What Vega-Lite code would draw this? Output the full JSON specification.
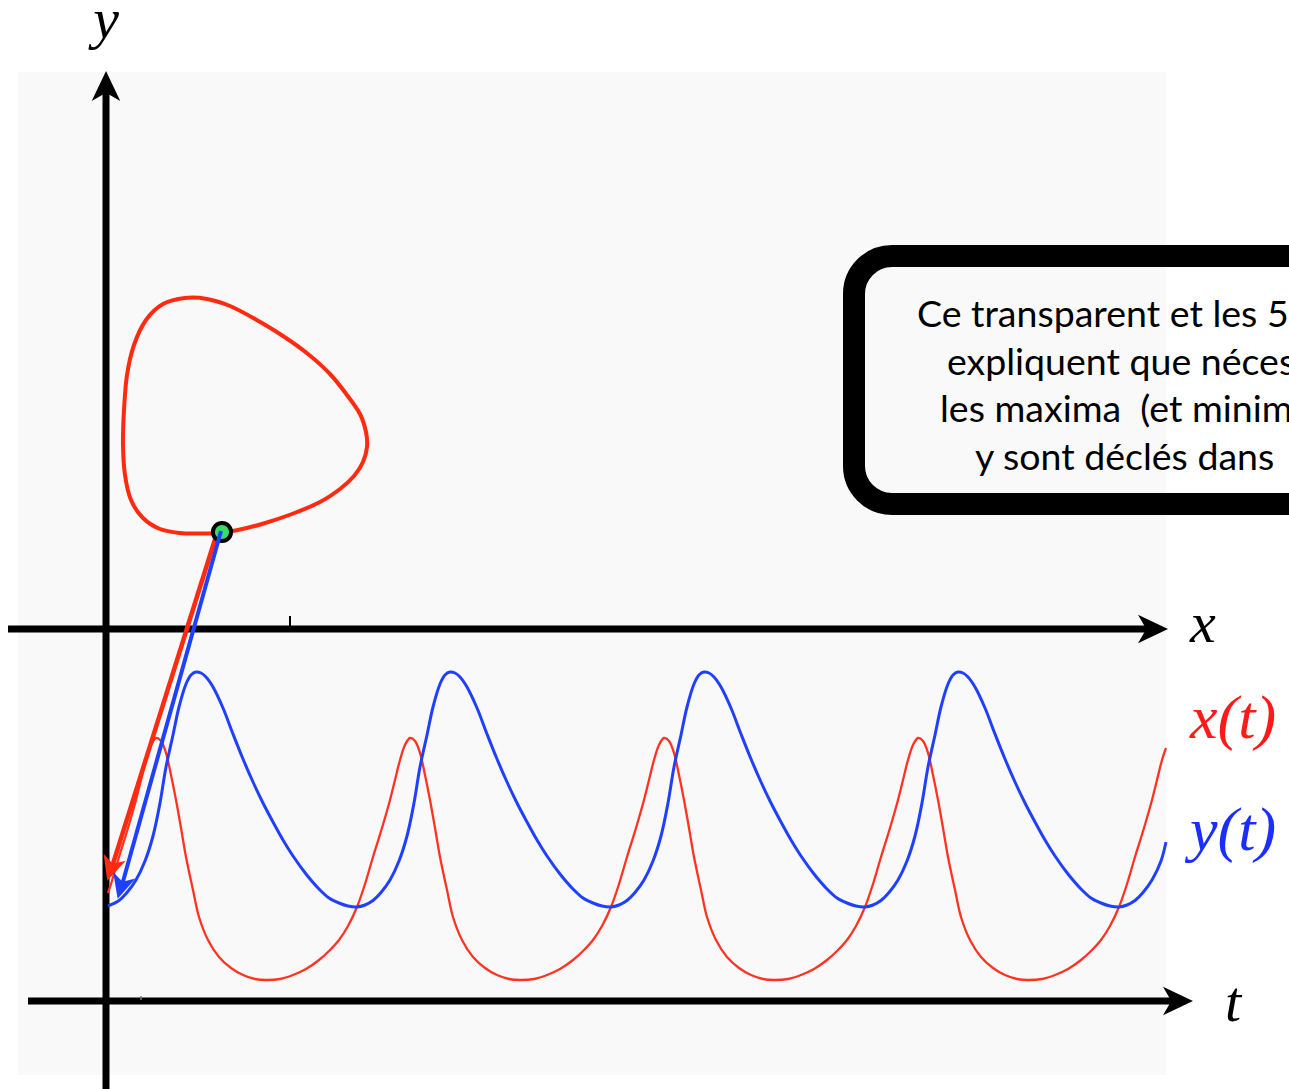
{
  "$schema": "https://vega.github.io/schema/vega-lite/v6.json",
  "width": 1289,
  "height": 1089,
  "autosize": {"type": "none"},
  "padding": 0,
  "background": "white",
  "config": {"view": {"stroke": null}},
  "encoding": {
    "x": {"field": "t", "type": "quantitative", "scale": {"domain": [-104, 1185], "nice": false, "zero": false}, "axis": null},
    "y": {"field": "v", "type": "quantitative", "scale": {"domain": [-89, 1000], "nice": false, "zero": false}, "axis": null}
  },
  "datasets": {
    "series": [
      {"s":"y","t":4,"v":94},{"s":"y","t":15,"v":99.5},{"s":"y","t":23,"v":107.5},{"s":"y","t":32,"v":120},{"s":"y","t":41,"v":139},{"s":"y","t":49,"v":164},{"s":"y","t":56,"v":197},{"s":"y","t":62,"v":233},{"s":"y","t":69,"v":265},{"s":"y","t":75,"v":293},{"s":"y","t":82,"v":316},{"s":"y","t":87,"v":325},{"s":"y","t":92,"v":328},{"s":"y","t":97,"v":327},{"s":"y","t":102,"v":323},{"s":"y","t":109,"v":313},{"s":"y","t":119,"v":292},{"s":"y","t":129,"v":266},{"s":"y","t":139,"v":241},{"s":"y","t":149,"v":218},{"s":"y","t":159,"v":197},{"s":"y","t":169,"v":178},{"s":"y","t":179,"v":160},{"s":"y","t":189,"v":144},{"s":"y","t":202,"v":126},{"s":"y","t":215,"v":111},{"s":"y","t":225,"v":102},{"s":"y","t":235,"v":97},{"s":"y","t":244,"v":94},
      {"s":"y","t":253,"v":93},{"s":"y","t":261,"v":95},{"s":"y","t":269,"v":99.5},{"s":"y","t":277,"v":107.5},{"s":"y","t":286,"v":120},{"s":"y","t":295,"v":139},{"s":"y","t":303,"v":164},{"s":"y","t":310,"v":197},{"s":"y","t":316,"v":233},{"s":"y","t":323,"v":265},{"s":"y","t":329,"v":293},{"s":"y","t":336,"v":316},{"s":"y","t":341,"v":325},{"s":"y","t":346,"v":328},{"s":"y","t":351,"v":327},{"s":"y","t":356,"v":323},{"s":"y","t":363,"v":313},{"s":"y","t":373,"v":292},{"s":"y","t":383,"v":266},{"s":"y","t":393,"v":241},{"s":"y","t":403,"v":218},{"s":"y","t":413,"v":197},{"s":"y","t":423,"v":178},{"s":"y","t":433,"v":160},{"s":"y","t":443,"v":144},{"s":"y","t":456,"v":126},{"s":"y","t":469,"v":111},{"s":"y","t":479,"v":102},{"s":"y","t":489,"v":97},{"s":"y","t":498,"v":94},
      {"s":"y","t":507,"v":93},{"s":"y","t":515,"v":95},{"s":"y","t":523,"v":99.5},{"s":"y","t":531,"v":107.5},{"s":"y","t":540,"v":120},{"s":"y","t":549,"v":139},{"s":"y","t":557,"v":164},{"s":"y","t":564,"v":197},{"s":"y","t":570,"v":233},{"s":"y","t":577,"v":265},{"s":"y","t":583,"v":293},{"s":"y","t":590,"v":316},{"s":"y","t":595,"v":325},{"s":"y","t":600,"v":328},{"s":"y","t":605,"v":327},{"s":"y","t":610,"v":323},{"s":"y","t":617,"v":313},{"s":"y","t":627,"v":292},{"s":"y","t":637,"v":266},{"s":"y","t":647,"v":241},{"s":"y","t":657,"v":218},{"s":"y","t":667,"v":197},{"s":"y","t":677,"v":178},{"s":"y","t":687,"v":160},{"s":"y","t":697,"v":144},{"s":"y","t":710,"v":126},{"s":"y","t":723,"v":111},{"s":"y","t":733,"v":102},{"s":"y","t":743,"v":97},{"s":"y","t":752,"v":94},
      {"s":"y","t":761,"v":93},{"s":"y","t":769,"v":95},{"s":"y","t":777,"v":99.5},{"s":"y","t":785,"v":107.5},{"s":"y","t":794,"v":120},{"s":"y","t":803,"v":139},{"s":"y","t":811,"v":164},{"s":"y","t":818,"v":197},{"s":"y","t":824,"v":233},{"s":"y","t":831,"v":265},{"s":"y","t":837,"v":293},{"s":"y","t":844,"v":316},{"s":"y","t":849,"v":325},{"s":"y","t":854,"v":328},{"s":"y","t":859,"v":327},{"s":"y","t":864,"v":323},{"s":"y","t":871,"v":313},{"s":"y","t":881,"v":292},{"s":"y","t":891,"v":266},{"s":"y","t":901,"v":241},{"s":"y","t":911,"v":218},{"s":"y","t":921,"v":197},{"s":"y","t":931,"v":178},{"s":"y","t":941,"v":160},{"s":"y","t":951,"v":144},{"s":"y","t":964,"v":126},{"s":"y","t":977,"v":111},{"s":"y","t":987,"v":102},{"s":"y","t":997,"v":97},{"s":"y","t":1006,"v":94},
      {"s":"y","t":1015,"v":93},{"s":"y","t":1023,"v":95},{"s":"y","t":1031,"v":99.5},{"s":"y","t":1039,"v":107.5},{"s":"y","t":1048,"v":120},{"s":"y","t":1057,"v":139},{"s":"y","t":1062,"v":158},
      {"s":"x","t":4,"v":107},{"s":"x","t":7,"v":116},{"s":"x","t":15,"v":143},{"s":"x","t":24,"v":172},{"s":"x","t":32,"v":200},{"s":"x","t":37,"v":220},{"s":"x","t":42,"v":240},{"s":"x","t":47,"v":255},{"s":"x","t":52,"v":262},{"s":"x","t":57,"v":259},{"s":"x","t":62,"v":247},{"s":"x","t":67,"v":225},{"s":"x","t":72,"v":200},{"s":"x","t":77,"v":172},{"s":"x","t":82,"v":143},{"s":"x","t":89,"v":110},{"s":"x","t":95,"v":83},{"s":"x","t":104,"v":60},{"s":"x","t":115,"v":43},{"s":"x","t":127,"v":32},{"s":"x","t":139,"v":25},{"s":"x","t":151,"v":21},{"s":"x","t":162,"v":20},{"s":"x","t":176,"v":21},{"s":"x","t":189,"v":25},{"s":"x","t":202,"v":31},{"s":"x","t":215,"v":40},{"s":"x","t":225,"v":49},{"s":"x","t":235,"v":60},{"s":"x","t":244,"v":74},
      {"s":"x","t":253,"v":93},{"s":"x","t":261,"v":116},{"s":"x","t":269,"v":143},{"s":"x","t":278,"v":172},{"s":"x","t":286,"v":200},{"s":"x","t":291,"v":220},{"s":"x","t":296,"v":240},{"s":"x","t":301,"v":255},{"s":"x","t":306,"v":262},{"s":"x","t":311,"v":259},{"s":"x","t":316,"v":247},{"s":"x","t":321,"v":225},{"s":"x","t":326,"v":200},{"s":"x","t":331,"v":172},{"s":"x","t":336,"v":143},{"s":"x","t":343,"v":110},{"s":"x","t":349,"v":83},{"s":"x","t":358,"v":60},{"s":"x","t":369,"v":43},{"s":"x","t":381,"v":32},{"s":"x","t":393,"v":25},{"s":"x","t":405,"v":21},{"s":"x","t":416,"v":20},{"s":"x","t":430,"v":21},{"s":"x","t":443,"v":25},{"s":"x","t":456,"v":31},{"s":"x","t":469,"v":40},{"s":"x","t":479,"v":49},{"s":"x","t":489,"v":60},{"s":"x","t":498,"v":74},
      {"s":"x","t":507,"v":93},{"s":"x","t":515,"v":116},{"s":"x","t":523,"v":143},{"s":"x","t":532,"v":172},{"s":"x","t":540,"v":200},{"s":"x","t":545,"v":220},{"s":"x","t":550,"v":240},{"s":"x","t":555,"v":255},{"s":"x","t":560,"v":262},{"s":"x","t":565,"v":259},{"s":"x","t":570,"v":247},{"s":"x","t":575,"v":225},{"s":"x","t":580,"v":200},{"s":"x","t":585,"v":172},{"s":"x","t":590,"v":143},{"s":"x","t":597,"v":110},{"s":"x","t":603,"v":83},{"s":"x","t":612,"v":60},{"s":"x","t":623,"v":43},{"s":"x","t":635,"v":32},{"s":"x","t":647,"v":25},{"s":"x","t":659,"v":21},{"s":"x","t":670,"v":20},{"s":"x","t":684,"v":21},{"s":"x","t":697,"v":25},{"s":"x","t":710,"v":31},{"s":"x","t":723,"v":40},{"s":"x","t":733,"v":49},{"s":"x","t":743,"v":60},{"s":"x","t":752,"v":74},
      {"s":"x","t":761,"v":93},{"s":"x","t":769,"v":116},{"s":"x","t":777,"v":143},{"s":"x","t":786,"v":172},{"s":"x","t":794,"v":200},{"s":"x","t":799,"v":220},{"s":"x","t":804,"v":240},{"s":"x","t":809,"v":255},{"s":"x","t":814,"v":262},{"s":"x","t":819,"v":259},{"s":"x","t":824,"v":247},{"s":"x","t":829,"v":225},{"s":"x","t":834,"v":200},{"s":"x","t":839,"v":172},{"s":"x","t":844,"v":143},{"s":"x","t":851,"v":110},{"s":"x","t":857,"v":83},{"s":"x","t":866,"v":60},{"s":"x","t":877,"v":43},{"s":"x","t":889,"v":32},{"s":"x","t":901,"v":25},{"s":"x","t":913,"v":21},{"s":"x","t":924,"v":20},{"s":"x","t":938,"v":21},{"s":"x","t":951,"v":25},{"s":"x","t":964,"v":31},{"s":"x","t":977,"v":40},{"s":"x","t":987,"v":49},{"s":"x","t":997,"v":60},{"s":"x","t":1006,"v":74},
      {"s":"x","t":1015,"v":93},{"s":"x","t":1023,"v":116},{"s":"x","t":1031,"v":143},{"s":"x","t":1040,"v":172},{"s":"x","t":1048,"v":200},{"s":"x","t":1053,"v":220},{"s":"x","t":1058,"v":240},{"s":"x","t":1062,"v":252}
    ],
    "cycle": [
      {"i":1,"t":116,"v":467},{"i":2,"t":96,"v":466.5},{"i":3,"t":76,"v":467},{"i":4,"t":56,"v":471},{"i":5,"t":39,"v":482},{"i":6,"t":27,"v":500},{"i":7,"t":21,"v":525},{"i":8,"t":19,"v":555},{"i":9,"t":20,"v":590},{"i":10,"t":23,"v":625},{"i":11,"t":30,"v":655},{"i":12,"t":42,"v":680},{"i":13,"t":59,"v":696},{"i":14,"t":81,"v":702},{"i":15,"t":103,"v":701},{"i":16,"t":126,"v":694},{"i":17,"t":151,"v":681},{"i":18,"t":179,"v":664},{"i":19,"t":204,"v":646},{"i":20,"t":226,"v":626},{"i":21,"t":243,"v":605},{"i":22,"t":256,"v":586},{"i":23,"t":262,"v":568},{"i":24,"t":263,"v":553},{"i":25,"t":259,"v":538},{"i":26,"t":250,"v":524},{"i":27,"t":236,"v":511},{"i":28,"t":216,"v":498},{"i":29,"t":188,"v":486},{"i":30,"t":158,"v":476},{"i":31,"t":134,"v":470}
    ]
  },
  "layer": [
    {
      "data": {"values": [{"t": -86, "t2": 1062, "v": 928, "v2": -75}]},
      "mark": {"type": "rect", "color": "#f9f9f9"},
      "encoding": {"x2": {"field": "t2"}, "y2": {"field": "v2"}}
    },
    {
      "data": {"values": [{"t": 750, "t2": 1226, "v": 744, "v2": 496}]},
      "mark": {"type": "rect", "fill": null, "fillOpacity": 0, "stroke": "black", "strokeWidth": 22, "cornerRadius": 38},
      "encoding": {"x2": {"field": "t2"}, "y2": {"field": "v2"}}
    },
    {
      "data": {"values": [
        {"t": 813, "v": 673, "line": "Ce transparent et les 5 suivants"},
        {"t": 843, "v": 625.5, "line": "expliquent que nécessairement"},
        {"t": 836, "v": 578, "line": "les maxima\u00a0 (et minima) de x et"},
        {"t": 871, "v": 530.5, "line": "y sont déclés dans\u00a0 le temps"}
      ]},
      "mark": {"type": "text", "align": "left", "baseline": "alphabetic", "font": "Lato", "fontSize": 37.5, "color": "black"},
      "encoding": {"text": {"field": "line"}}
    },
    {
      "data": {"values": [
        {"t": 2, "t2": 2, "v": -89, "v2": 912},
        {"t": -96, "t2": 1050, "v": 371, "v2": 371},
        {"t": -76, "t2": 1075, "v": -1, "v2": -1}
      ]},
      "mark": {"type": "rule", "color": "black", "strokeWidth": 7, "strokeCap": "butt"},
      "encoding": {"x2": {"field": "t2"}, "y2": {"field": "v2"}}
    },
    {
      "data": {"values": [{"t": 186, "t2": 186, "v": 371, "v2": 384}]},
      "mark": {"type": "rule", "color": "black", "strokeWidth": 2},
      "encoding": {"x2": {"field": "t2"}, "y2": {"field": "v2"}}
    },
    {
      "data": {"values": [{"t": 37, "t2": 37, "v": 0, "v2": 4}]},
      "mark": {"type": "rule", "color": "#777777", "strokeWidth": 1.5},
      "encoding": {"x2": {"field": "t2"}, "y2": {"field": "v2"}}
    },
    {
      "data": {"values": [{"t": 1049, "v": 371}, {"t": 1074, "v": -1}]},
      "mark": {"type": "point", "filled": true, "opacity": 1, "color": "black", "size": 900, "shape": "M1,0 L-1,-0.95 L-0.45,0 L-1,0.95 Z"}
    },
    {
      "data": {"values": [{"t": 2, "v": 914}]},
      "mark": {"type": "point", "filled": true, "opacity": 1, "color": "black", "size": 900, "angle": -90, "shape": "M1,0 L-1,-0.95 L-0.45,0 L-1,0.95 Z"}
    },
    {
      "data": {"name": "series"},
      "transform": [{"filter": "datum.s === 'x'"}],
      "mark": {"type": "line", "interpolate": "catmull-rom", "color": "#ff3322", "strokeWidth": 2.3},
      "encoding": {}
    },
    {
      "data": {"name": "series"},
      "transform": [{"filter": "datum.s === 'y'"}],
      "mark": {"type": "line", "interpolate": "catmull-rom", "color": "#2040ff", "strokeWidth": 3},
      "encoding": {}
    },
    {
      "data": {"name": "cycle"},
      "mark": {"type": "line", "interpolate": "cardinal-closed", "color": "#ff2a10", "strokeWidth": 4},
      "encoding": {"order": {"field": "i", "type": "quantitative"}}
    },
    {
      "data": {"values": [{"t": 113, "t2": 8, "v": 467, "v2": 133}]},
      "mark": {"type": "rule", "color": "#ff2a10", "strokeWidth": 4.5},
      "encoding": {"x2": {"field": "t2"}, "y2": {"field": "v2"}}
    },
    {
      "data": {"values": [{"t": 7, "v": 131}]},
      "mark": {"type": "point", "filled": true, "opacity": 1, "color": "#ff2a10", "size": 600, "angle": 107.7, "shape": "M1,0 L-1,-0.95 L-0.45,0 L-1,0.95 Z"}
    },
    {
      "data": {"values": [{"t": 118, "v": 468}]},
      "mark": {"type": "point", "filled": true, "opacity": 1, "fill": "#33dd66", "stroke": "black", "strokeWidth": 4, "size": 330, "shape": "circle"}
    },
    {
      "data": {"values": [{"t": 117, "t2": 18, "v": 469, "v2": 115}]},
      "mark": {"type": "rule", "color": "#2040ff", "strokeWidth": 4},
      "encoding": {"x2": {"field": "t2"}, "y2": {"field": "v2"}}
    },
    {
      "data": {"values": [{"t": 17, "v": 113}]},
      "mark": {"type": "point", "filled": true, "opacity": 1, "color": "#2040ff", "size": 600, "angle": 105.9, "shape": "M1,0 L-1,-0.95 L-0.45,0 L-1,0.95 Z"}
    },
    {
      "data": {"values": [{"t": 2, "v": 962, "label": "y"}]},
      "mark": {"type": "text", "align": "center", "baseline": "alphabetic", "font": "Liberation Serif", "fontStyle": "italic", "fontSize": 58, "color": "black"},
      "encoding": {"text": {"field": "label"}}
    },
    {
      "data": {"values": [
        {"t": 1086, "v": 358, "label": "x"},
        {"t": 1121, "v": -21, "label": "t"}
      ]},
      "mark": {"type": "text", "align": "left", "baseline": "alphabetic", "font": "Liberation Serif", "fontStyle": "italic", "fontSize": 58, "color": "black"},
      "encoding": {"text": {"field": "label"}}
    },
    {
      "data": {"values": [{"t": 1086, "v": 262, "label": "x(t)"}]},
      "mark": {"type": "text", "align": "left", "baseline": "alphabetic", "font": "Liberation Serif", "fontStyle": "italic", "fontSize": 62, "color": "#ff1a1a"},
      "encoding": {"text": {"field": "label"}}
    },
    {
      "data": {"values": [{"t": 1086, "v": 150, "label": "y(t)"}]},
      "mark": {"type": "text", "align": "left", "baseline": "alphabetic", "font": "Liberation Serif", "fontStyle": "italic", "fontSize": 62, "color": "#1a2eff"},
      "encoding": {"text": {"field": "label"}}
    }
  ]
}
